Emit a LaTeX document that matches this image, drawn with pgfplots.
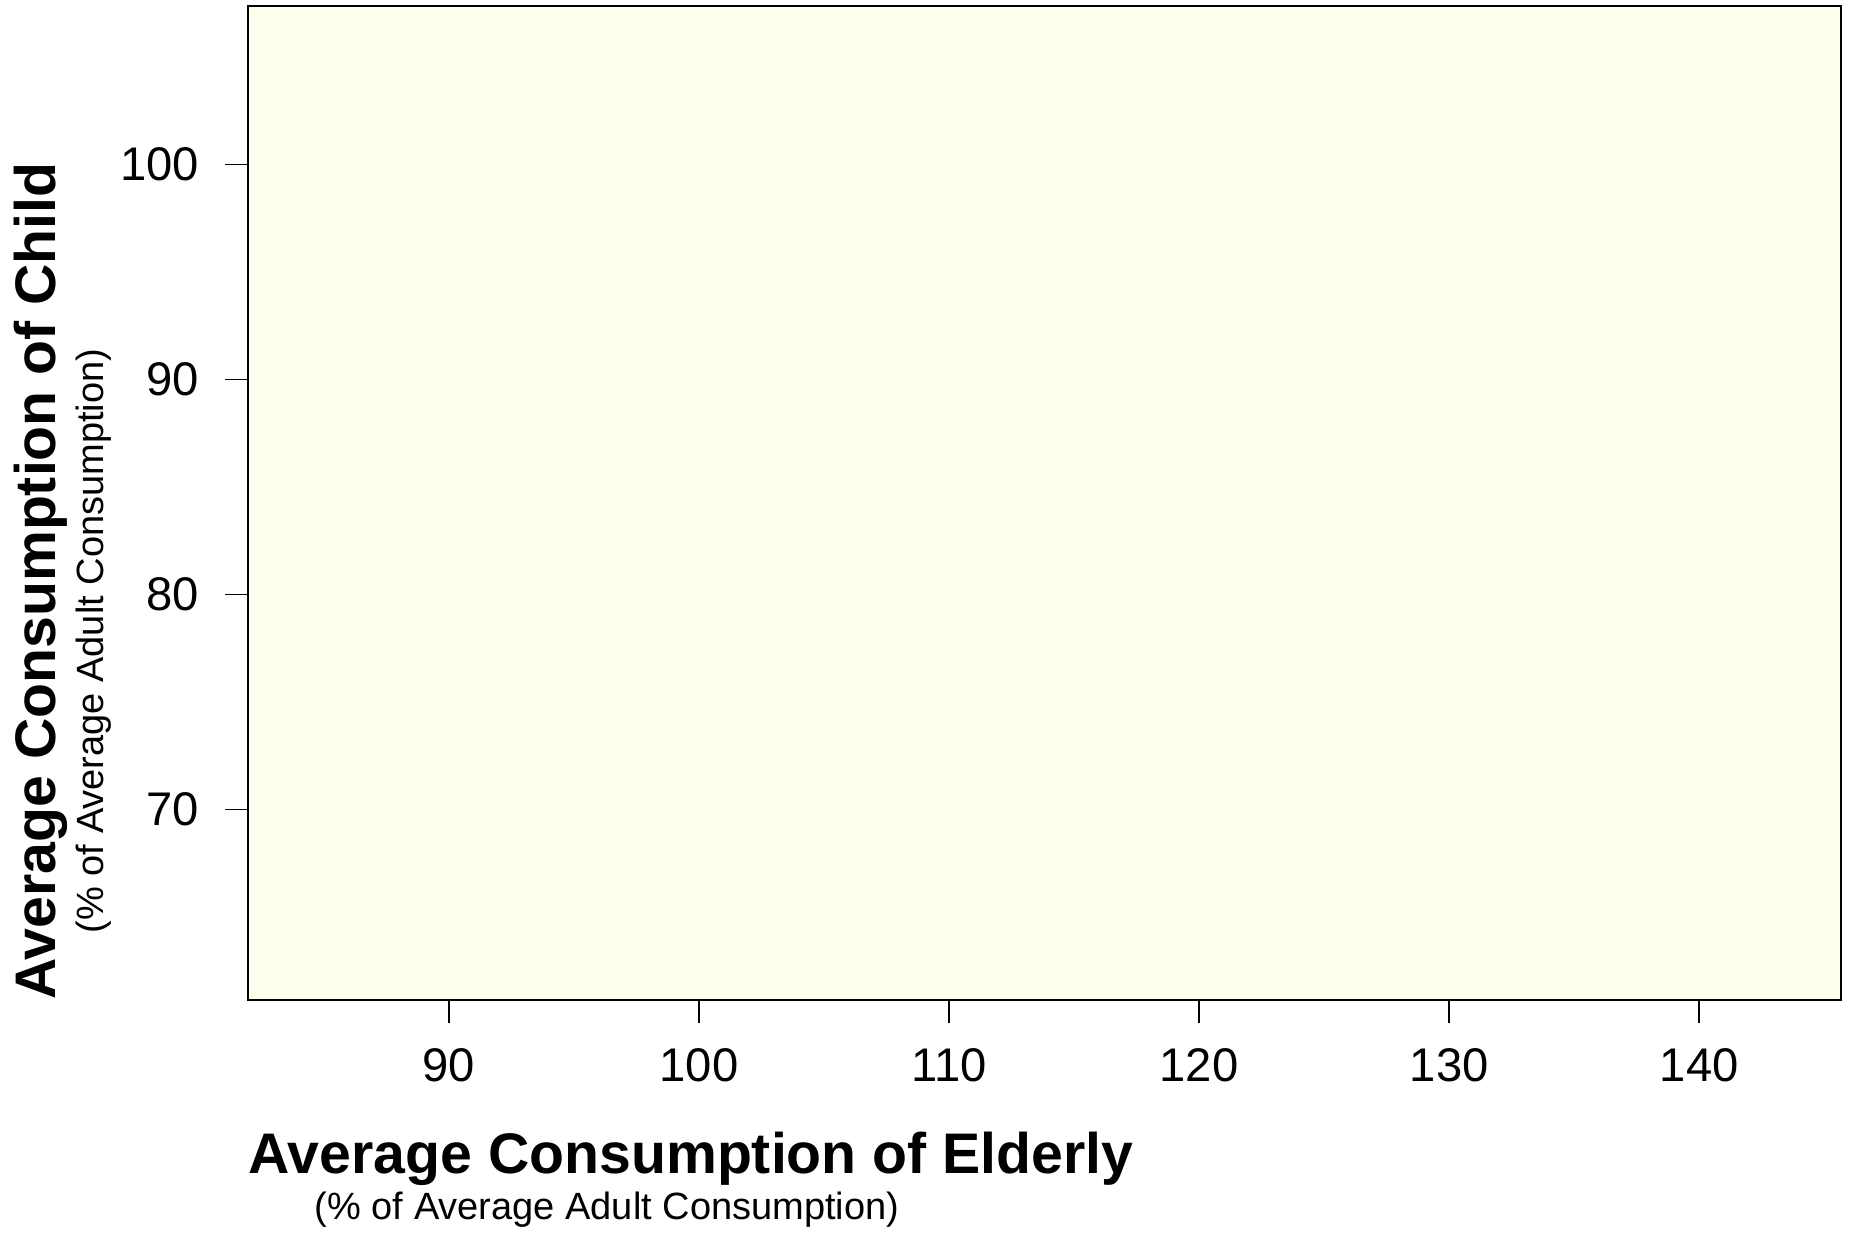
\documentclass[border=0pt]{standalone}
\usepackage{fontspec}
\setmainfont{Liberation Sans}
\usepackage{pgfplots}
\pgfplotsset{compat=1.18}
\definecolor{ivorybg}{RGB}{255,255,240}
\begin{document}
\begin{tikzpicture}
\begin{axis}[
  scale only axis,
  width=398.25pt, height=248.5pt,
  xmin=81.97, xmax=145.67,
  ymin=61.15, ymax=107.36,
  xtick={90,100,110,120,130,140},
  ytick={70,80,90,100},
  tick align=outside,
  tick pos=left,
  major tick length=5.75pt,
  minor tick num=0,
  axis line style={black, line width=0.4pt},
  tick style={black, line width=0.4pt},
  axis background/.style={fill=ivorybg},
  /pgf/number format/assume math mode=true,
  ticklabel style={font=\fontsize{11.8}{14}\selectfont, inner sep=0pt},
  xticklabel style={anchor=base, yshift=-14.5pt},
  yticklabel style={anchor=east, xshift=-6.25pt},
  xticklabel shift=0pt,
  yticklabel shift=0pt,
]
\end{axis}
\node[anchor=base west, inner sep=0pt, font=\fontsize{14.3}{17}\selectfont\bfseries]
  at ([yshift=-43.25pt]current axis.south west) {Average Consumption of Elderly};
\node[anchor=base, inner sep=0pt, font=\fontsize{9.5}{11}\selectfont]
  at ([xshift=89.75pt,yshift=-54.9pt]current axis.south west) {(\% of Average Adult Consumption)};
\node[anchor=base west, rotate=90, inner sep=0pt, font=\fontsize{14.3}{17}\selectfont\bfseries]
  at ([xshift=-48pt]current axis.south west) {Average Consumption of Child};
\node[anchor=base, rotate=90, inner sep=0pt, font=\fontsize{9.5}{11}\selectfont]
  at ([xshift=-36pt,yshift=89.75pt]current axis.south west) {(\% of Average Adult Consumption)};
\path ([xshift=-62pt,yshift=-58pt]current axis.south west) rectangle ([xshift=3pt,yshift=1.5pt]current axis.north east);
\end{tikzpicture}
\end{document}
